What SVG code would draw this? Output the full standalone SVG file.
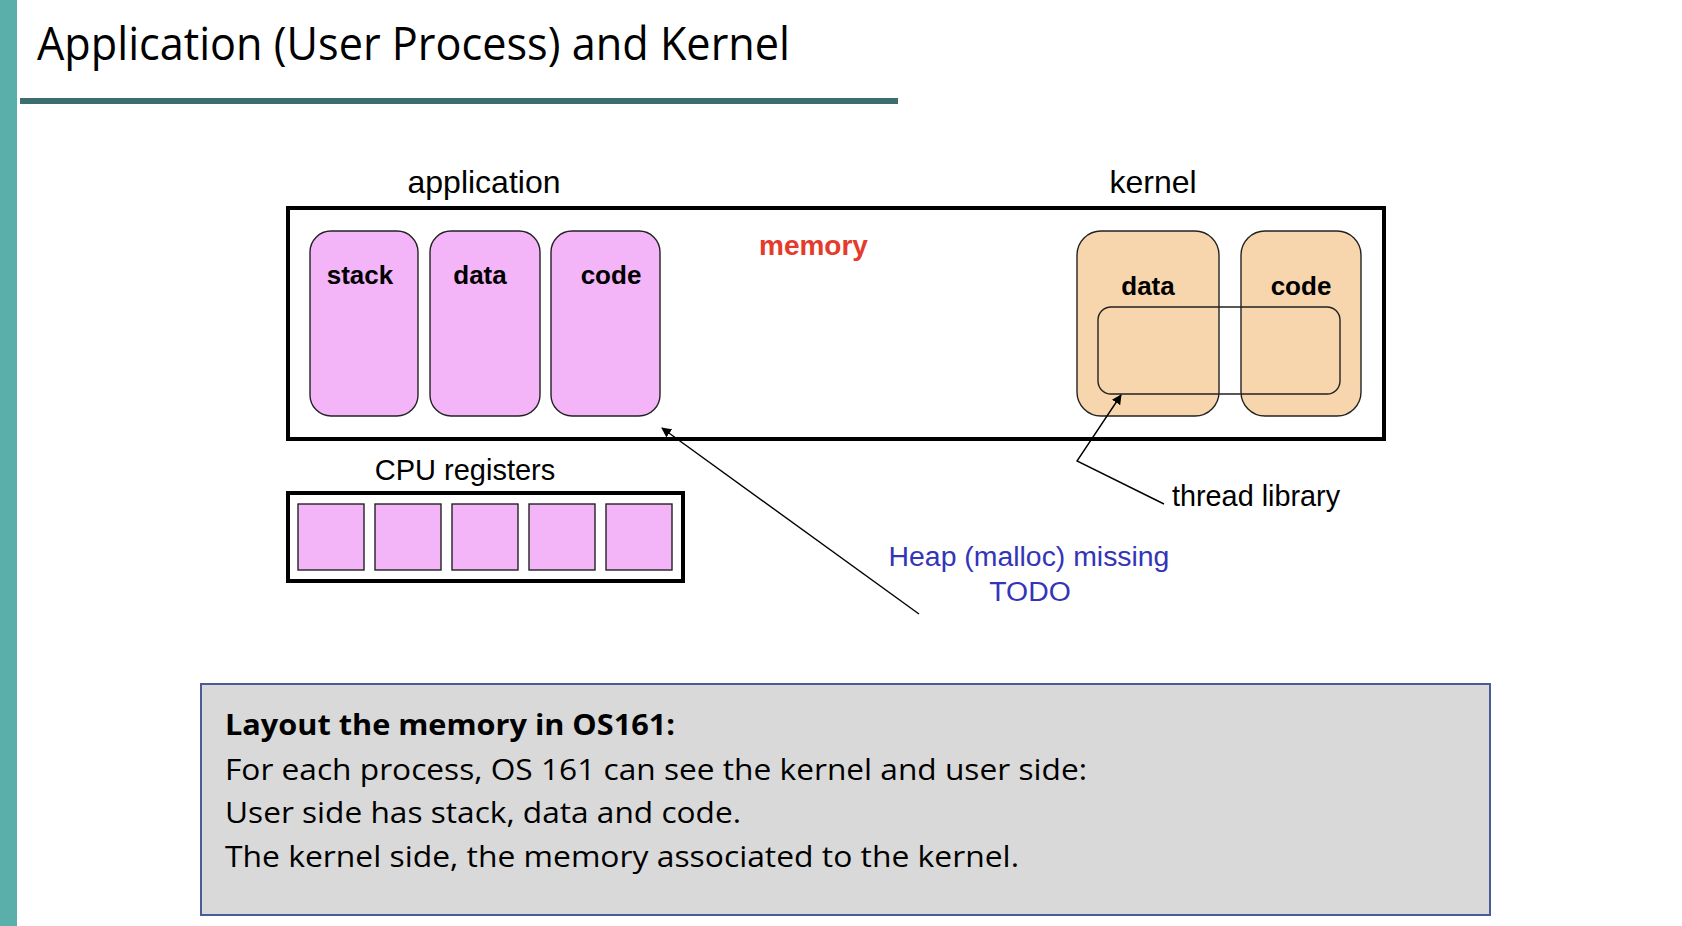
<svg xmlns="http://www.w3.org/2000/svg" width="1682" height="926" viewBox="0 0 1682 926">
<style>
.arial{font-family:"Liberation Sans",Arial,sans-serif;}
.lbl{font-family:"Liberation Sans",Arial,sans-serif;font-size:32px;fill:#000;text-anchor:middle;}
.seg{font-family:"Liberation Sans",Arial,sans-serif;font-size:26px;font-weight:bold;fill:#000;text-anchor:middle;}
.user{fill:#F4B4F8;stroke:#222;stroke-width:1.4;}
.kern{fill:#F7D5AD;stroke:#222;stroke-width:1.4;}
.frame{fill:#fff;stroke:#000;stroke-width:4;}
.conn{fill:none;stroke:#000;stroke-width:1.4;}
.body{font-family:"Open Sans","Noto Sans",sans-serif;font-size:29px;fill:#000;}
</style>
<defs>
<marker id="ah" viewBox="0 0 10 10" refX="9" refY="5" markerWidth="10" markerHeight="10" markerUnits="userSpaceOnUse" orient="auto">
<path d="M0,0 L10,5 L0,10 Z" fill="#000"/>
</marker>
</defs>
<rect width="1682" height="926" fill="#fff"/>
<rect x="0" y="0" width="17" height="926" fill="#5AAFAB"/>
<g id="title">
<text x="37" y="60" font-family="'Open Sans','Noto Sans',sans-serif" font-size="46" fill="#000" textLength="753" lengthAdjust="spacingAndGlyphs">Application (User Process) and Kernel</text>
<rect x="20" y="98" width="878" height="6" fill="#3B6E6E"/>
</g>
<g id="memory">
<text class="lbl" x="484" y="193">application</text>
<text class="lbl" x="1153" y="193">kernel</text>
<rect class="frame" x="288" y="208" width="1096" height="231"/>
<text x="759" y="255" font-family="'Liberation Sans',Arial,sans-serif" font-size="28" font-weight="bold" fill="#E53B2B">memory</text>
</g>
<g id="user-stack">
<rect class="user" x="310" y="231" width="108" height="185" rx="21"/>
<text class="seg" x="360" y="284">stack</text>
</g>
<g id="user-data">
<rect class="user" x="430" y="231" width="110" height="185" rx="21"/>
<text class="seg" x="480" y="284">data</text>
</g>
<g id="user-code">
<rect class="user" x="551" y="231" width="109" height="185" rx="21"/>
<text class="seg" x="611" y="284">code</text>
</g>
<g id="kernel-data">
<rect class="kern" x="1077" y="231" width="142" height="185" rx="24"/>
<text class="seg" x="1148" y="295">data</text>
</g>
<g id="kernel-code">
<rect class="kern" x="1241" y="231" width="120" height="185" rx="24"/>
<text class="seg" x="1301" y="295">code</text>
</g>
<g id="thread-region">
<rect x="1098" y="307" width="242" height="87" rx="13" fill="none" stroke="#222" stroke-width="1.4"/>
</g>
<g id="cpu">
<text x="465" y="480" font-family="'Liberation Sans',Arial,sans-serif" font-size="29" fill="#000" text-anchor="middle">CPU registers</text>
<rect class="frame" x="288" y="493" width="395" height="88"/>
<rect class="user" x="298" y="504" width="66" height="66"/>
<rect class="user" x="375" y="504" width="66" height="66"/>
<rect class="user" x="452" y="504" width="66" height="66"/>
<rect class="user" x="529" y="504" width="66" height="66"/>
<rect class="user" x="606" y="504" width="66" height="66"/>
</g>
<g id="connectors">
<path class="conn" d="M919,614 L662,428" marker-end="url(#ah)"/>
<path class="conn" d="M1164,504 L1077,461 L1121,395" marker-end="url(#ah)"/>
</g>
<g id="thread-label">
<text x="1172" y="506" font-family="'Liberation Sans',Arial,sans-serif" font-size="28.8" fill="#000">thread library</text>
</g>
<g id="heap-note">
<text x="1029" y="566" font-family="'Liberation Sans',Arial,sans-serif" font-size="28.4" fill="#3434B8" text-anchor="middle">Heap (malloc) missing</text>
<text x="1030" y="601" font-family="'Liberation Sans',Arial,sans-serif" font-size="28.4" fill="#3434B8" text-anchor="middle">TODO</text>
</g>
<g id="note">
<rect x="201" y="684" width="1289" height="231" fill="#D9D9D9" stroke="#4A5B9B" stroke-width="2"/>
<text class="body" x="225" y="735" font-weight="bold" textLength="450" lengthAdjust="spacingAndGlyphs">Layout the memory in OS161:</text>
<text class="body" x="225" y="780" textLength="862" lengthAdjust="spacingAndGlyphs">For each process, OS 161 can see the kernel and user side:</text>
<text class="body" x="225" y="823" textLength="516" lengthAdjust="spacingAndGlyphs">User side has stack, data and code.</text>
<text class="body" x="225" y="867" textLength="794" lengthAdjust="spacingAndGlyphs">The kernel side, the memory associated to the kernel.</text>
</g>
</svg>
